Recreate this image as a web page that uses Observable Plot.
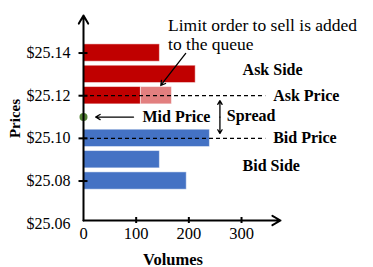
<!DOCTYPE html>
<html><head><meta charset="utf-8">
<script src="https://cdn.jsdelivr.net/npm/d3@7"></script>
<script src="https://cdn.jsdelivr.net/npm/@observablehq/plot@0.6"></script>
<style>body{margin:0;background:#fff}</style>
</head><body><div id="chart"></div>
<script>
const askPrices = [25.14, 25.13, 25.12];
const askVolumes = [145, 213, 109];
const addedPrice = 25.12;
const addedVolume = 59;
const bidPrices = [25.10, 25.09, 25.08];
const bidVolumes = [240, 145, 196];
const yTicks = [25.06, 25.08, 25.10, 25.12, 25.14];
const xTicks = [0, 100, 200, 300];
const askPrice = 25.12;
const bidPrice = 25.10;
const midPrice = (askPrice + bidPrice) / 2;
const priceStep = 0.01;

const ask = askPrices.map((p, i) => ({p, v: askVolumes[i]}));
const bid = bidPrices.map((p, i) => ({p, v: bidVolumes[i]}));
const added = [{p: addedPrice, v0: askVolumes[askPrices.indexOf(addedPrice)], v: addedVolume}];

const xMax = 374, yMin = 25.0615, yMax = 25.1576;
const font = "Liberation Serif";

const chart = Plot.plot({
  width: 373, height: 267,
  marginLeft: 83, marginRight: 93, marginTop: 15, marginBottom: 47,
  x: {domain: [0, xMax]},
  y: {domain: [yMin, yMax]},
  style: {fontFamily: font, fontSize: "16px", color: "black", background: "white"},
  marks: [
    Plot.rect(ask, {x1: d => 0, x2: "v", y1: d => d.p - priceStep/2, y2: d => d.p + priceStep/2,
      insetTop: 2, insetBottom: 2, fill: "#C00000", stroke: "#fff", strokeOpacity: 0.5}),
    Plot.rect(added, {x1: "v0", x2: d => d.v0 + d.v, y1: d => d.p - priceStep/2, y2: d => d.p + priceStep/2,
      insetTop: 2, insetBottom: 2, fill: "#E27F7F", stroke: "#fff", strokeOpacity: 0.5}),
    Plot.rect(bid, {x1: d => 0, x2: "v", y1: d => d.p - priceStep/2, y2: d => d.p + priceStep/2,
      insetTop: 2, insetBottom: 2, fill: "#4472C4", stroke: "#fff", strokeOpacity: 0.5}),
    Plot.ruleY([askPrice, bidPrice], {x1: d => 0, x2: d => 346, stroke: "black", strokeWidth: 1.3, strokeDasharray: "4,3"}),
    Plot.text([askPrice], {y: d => d, x: d => 360, text: d => "Ask Price", textAnchor: "start", fontWeight: "bold", fontFamily: font, fontSize: 16}),
    Plot.text([bidPrice], {y: d => d, x: d => 360, text: d => "Bid Price", textAnchor: "start", fontWeight: "bold", fontFamily: font, fontSize: 16}),
    // mid price dot (under the axis line)
    Plot.dot([midPrice], {x: d => 0, y: d => d, r: 4, fill: "#548235"}),
    // axes
    Plot.arrow([0], {x1: d => 0, x2: d => xMax, y1: d => yMin, y2: d => yMin, stroke: "black", strokeWidth: 2, headLength: 7}),
    Plot.arrow([0], {x1: d => 0, x2: d => 0, y1: d => yMin, y2: d => yMax, stroke: "black", strokeWidth: 2, headLength: 7}),
    Plot.axisX(xTicks.slice(1), {tickSize: 6, dy: -3, tickFormat: () => "", label: null, strokeWidth: 2}),
    Plot.axisY(yTicks.slice(1), {tickSize: 9, dx: 4.5, tickFormat: () => "", label: null, strokeWidth: 2}),
    Plot.text(xTicks, {x: d => d, frameAnchor: "bottom", lineAnchor: "top", dy: 7, text: d => String(d), textAnchor: "middle", fontFamily: font, fontSize: 16.5}),
    Plot.text(yTicks, {y: d => d, frameAnchor: "left", dx: -13, textAnchor: "end", text: d => "$" + d.toFixed(2), fontFamily: font, fontSize: 16}),
    // mid price
    Plot.arrow([midPrice], {x1: d => 95, x2: d => 23, y1: d => d, y2: d => d, stroke: "black", strokeWidth: 1.3, headLength: 6}),
    Plot.text([midPrice], {x: d => 112, y: d => d, text: d => "Mid Price", textAnchor: "start", fontWeight: "bold", fontFamily: font, fontSize: 16}),
    // spread
    Plot.arrow([midPrice], {x1: d => 259, x2: d => 259, y1: d => d, y2: d => 25.1177, stroke: "black", strokeWidth: 1.3, headLength: 5}),
    Plot.arrow([midPrice], {x1: d => 259, x2: d => 259, y1: d => d, y2: d => 25.1023, stroke: "black", strokeWidth: 1.3, headLength: 5}),
    Plot.text([midPrice], {x: d => 272, y: d => d + 0.0005, text: d => "Spread", textAnchor: "start", fontWeight: "bold", fontFamily: font, fontSize: 16}),
    // sides
    Plot.text(["Ask Side"], {x: d => 302, y: d => 25.1323, text: d => d, textAnchor: "start", fontWeight: "bold", fontFamily: font, fontSize: 16}),
    Plot.text(["Bid Side"], {x: d => 302, y: d => 25.0873, text: d => d, textAnchor: "start", fontWeight: "bold", fontFamily: font, fontSize: 16}),
    // annotation
    Plot.text(["Limit order to sell is added\nto the queue"], {x: d => 160.5, y: d => 25.1489, text: d => d, textAnchor: "start", lineHeight: 1.09, fontFamily: font, fontSize: 17.5}),
    Plot.arrow([0], {x1: d => 194, y1: d => 25.1398, x2: d => 146.7, y2: d => 25.1248, stroke: "black", strokeWidth: 1.3, headLength: 6}),
    // axis labels
    Plot.text(["Volumes"], {x: d => 170, frameAnchor: "bottom", dy: 44, text: d => d, textAnchor: "middle", fontWeight: "bold", fontFamily: font, fontSize: 16.5}),
    Plot.text(["Prices"], {y: d => 25.1093, frameAnchor: "left", dx: -68, rotate: -90, text: d => d, textAnchor: "middle", lineAnchor: "middle", fontWeight: "bold", fontFamily: font, fontSize: 15})
  ]
});
document.getElementById("chart").appendChild(chart);
</script>
</body></html>
